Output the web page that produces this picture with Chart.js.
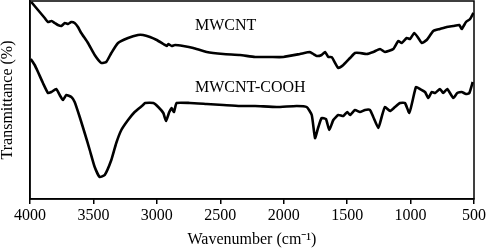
<!DOCTYPE html>
<html>
<head>
<meta charset="utf-8">
<script src="https://cdn.jsdelivr.net/npm/chart.js@4/dist/chart.umd.min.js"></script>
<style>
  html, body { margin: 0; padding: 0; background: #fff; }
  #wrap { width: 488px; height: 249px; }
</style>
</head>
<body>
<div id="wrap"><canvas id="ftir" width="488" height="249"></canvas></div>
<script>
/* ---- data (transmittance in arbitrary units) ---- */
const xTicks = [4000, 3500, 3000, 2500, 2000, 1500, 1000, 500];

const mwcntWn = [3990, 3937, 3884, 3858, 3830, 3805, 3780, 3753, 3725, 3700, 3675, 3648, 3622, 3596, 3543, 3490, 3438,
  3399, 3359, 3306, 3227, 3149, 3109, 3054, 3001, 2949, 2922, 2910, 2883, 2857, 2792, 2713, 2607, 2476, 2345,
  2226, 2108, 2003, 1872, 1793, 1767, 1740, 1701, 1674, 1648, 1622, 1570, 1530, 1477, 1438, 1399, 1346, 1294,
  1241, 1202, 1136, 1097, 1070, 1030, 1004, 971, 939, 912, 873, 821, 768, 715, 663, 616, 597, 563, 531, 505];
const mwcntT = [197, 189, 181, 177, 178, 176, 174, 173, 176, 175, 177, 176, 172, 166, 156, 144, 136,
  137, 146, 156, 161, 164, 164, 162, 159, 155, 153, 155, 153, 154, 153, 151, 147, 145, 144,
  142, 142, 142, 145, 147, 145, 143, 144, 147, 142, 142, 131, 134, 141, 146, 146, 145, 147,
  150, 147, 150, 158, 156, 161, 160, 166, 161, 156, 159, 168, 170, 172, 173, 174, 170, 177, 180, 186];

const coohWn = [3994, 3963, 3937, 3898, 3858, 3832, 3793, 3766, 3740, 3714, 3674, 3648, 3608, 3569, 3529, 3490, 3451,
  3411, 3359, 3320, 3280, 3227, 3175, 3109, 3093, 3028, 2989, 2949, 2928, 2902, 2883, 2865, 2844, 2739, 2607,
  2476, 2345, 2226, 2055, 1898, 1819, 1779, 1753, 1727, 1701, 1667, 1641, 1609, 1570, 1530, 1499, 1477, 1438,
  1399, 1359, 1320, 1294, 1254, 1228, 1202, 1162, 1123, 1083, 1044, 1010, 983, 957, 926, 886, 860, 833, 807,
  768, 743, 711, 663, 632, 597, 563, 537, 510];
const coohT = [140, 134, 127, 116, 106, 107, 110, 104, 99, 104, 102, 97, 82, 66, 49, 32, 22,
  24, 39, 56, 69, 79, 87, 94, 96, 96, 92, 86, 78, 87, 91, 87, 96, 96, 95,
  94, 93, 93, 92, 93, 92, 84, 61, 72, 81, 80, 69, 79, 84, 83, 87, 84, 89,
  87, 89, 89, 82, 71, 82, 92, 88, 92, 96, 96, 86, 99, 112, 110, 107, 101, 107, 106,
  110, 106, 110, 101, 106, 107, 105, 106, 117];

// curve labels: text, wavenumber of left edge, transmittance of text centre
const labelText = ['MWCNT', 'MWCNT-COOH'];
const labelWn = [2699, 2699];
const labelT = [173, 111];

const FONT = '"Liberation Serif", "Times New Roman", serif';

function pairs(xs, ys) { return xs.map((x, i) => ({ x, y: ys[i] })); }

/* ---- frame + curve labels ---- */
const framePlugin = {
  id: 'frame',
  afterDraw(chart) {
    const { ctx, chartArea: a, scales } = chart;
    ctx.save();
    ctx.strokeStyle = '#000';
    ctx.lineWidth = 1.5;
    ctx.strokeRect(a.left, a.top, a.right - a.left, a.bottom - a.top);
    ctx.fillStyle = '#000';
    ctx.font = '16px ' + FONT;
    ctx.textBaseline = 'middle';
    labelText.forEach((t, i) => {
      ctx.fillText(t, scales.x.getPixelForValue(labelWn[i]), scales.y.getPixelForValue(labelT[i]));
    });
    ctx.restore();
  }
};

new Chart(document.getElementById('ftir'), {
  type: 'line',
  data: {
    datasets: [
      { label: 'MWCNT', data: pairs(mwcntWn, mwcntT) },
      { label: 'MWCNT-COOH', data: pairs(coohWn, coohT) },
    ].map(d => Object.assign(d, {
      borderColor: '#000', borderWidth: 2.6, pointRadius: 0, tension: 0.15, fill: false,
    })),
  },
  options: {
    responsive: false,
    animation: false,
    devicePixelRatio: 1,
    layout: { padding: { top: 1, right: 14, left: 0, bottom: 0 } },
    plugins: { legend: { display: false }, tooltip: { enabled: false } },
    scales: {
      x: {
        type: 'linear', reverse: true, min: 500, max: 4000,
        afterBuildTicks: s => { s.ticks = xTicks.map(v => ({ value: v })); },
        afterFit: s => { s.height = 50; },
        grid: { drawOnChartArea: false, drawTicks: true, tickLength: 5, color: '#000', lineWidth: 1.5 },
        border: { display: true, color: '#000', width: 1.5 },
        ticks: { color: '#000', font: { family: FONT, size: 16 }, padding: 2, maxRotation: 0,
                 callback: v => String(v) },
        title: { display: true, text: 'Wavenumber (cm\u207B\u00B9)', color: '#000',
                 font: { family: FONT, size: 16, lineHeight: 1 }, padding: { top: 0, bottom: 1 } },
      },
      y: {
        min: 0, max: 198,
        afterFit: s => { s.width = 30; },
        grid: { display: false },
        border: { display: true, color: '#000', width: 1.5 },
        ticks: { display: false },
        title: { display: true, text: 'Transmittance (%)', color: '#000',
                 font: { family: FONT, size: 16, lineHeight: 1 }, padding: { top: 0, bottom: 0 } },
      },
    },
  },
  plugins: [framePlugin],
});
</script>
</body>
</html>
